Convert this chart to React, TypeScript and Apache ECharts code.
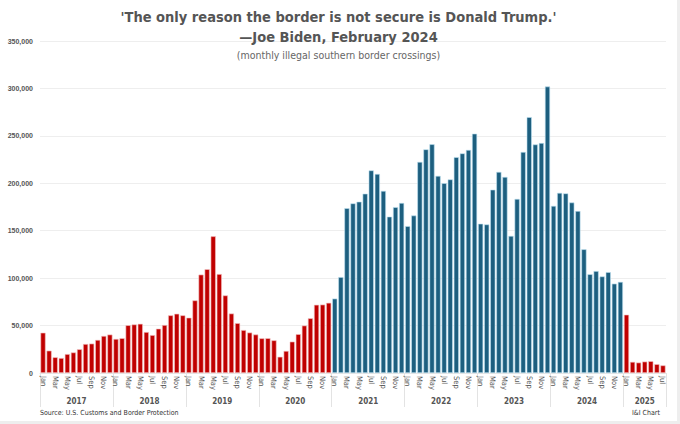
import React, { useEffect, useRef } from "react";
import * as echarts from "echarts";

const monthNames = ["Jan", "Feb", "Mar", "Apr", "May", "Jun", "Jul", "Aug", "Sep", "Oct", "Nov", "Dec"];
const years = [2017, 2018, 2019, 2020, 2021, 2022, 2023, 2024, 2025];

const v2017 = [42463, 23555, 16600, 15766, 19940, 21659, 25014, 30567, 30979, 34855, 39051, 40519];
const v2018 = [35905, 36687, 50347, 51168, 51862, 43180, 39953, 46719, 50568, 60798, 62469, 60782];
const v2019 = [58317, 76545, 103731, 109415, 144116, 104311, 81777, 62707, 52546, 45250, 42649, 40565];
const v2020 = [36585, 36687, 34460, 17106, 23237, 33049, 40929, 50014, 57674, 71929, 72113, 73994];
const v2021 = [78414, 101099, 173686, 178795, 180597, 189034, 213593, 209840, 192001, 164837, 174845, 179253];
const v2022 = [154874, 166010, 222574, 235785, 241136, 207834, 200162, 204087, 227547, 231529, 235173, 252315];
const v2023 = [157358, 156630, 193249, 211992, 206690, 144556, 183503, 232972, 269735, 240932, 242418, 301981];
const v2024 = [176205, 189913, 189359, 179737, 170716, 130415, 104101, 107473, 101790, 106321, 94190, 96035];
const v2025 = [61465, 11709, 11017, 12035, 12452, 9306, 8024];

const yearValues = [v2017, v2018, v2019, v2020, v2021, v2022, v2023, v2024, v2025];
// years under the Biden administration (drawn in blue)
const bidenYears = [2021, 2022, 2023, 2024];

const yTicks = [0, 50000, 100000, 150000, 200000, 250000, 300000, 350000];

const RED = "#C00000";
const BLUE = "#1D5F7F";
const FONT = "'Liberation Sans Narrow', 'Arial Narrow', 'DejaVu Sans Condensed', sans-serif";

export default function App() {
  const ref = useRef<HTMLDivElement>(null);

  useEffect(() => {
    document.body.style.margin = "0";
    if (!ref.current) return;
    const chart = echarts.init(ref.current, null, { renderer: "svg" });

    const categories: string[] = [];
    const data: any[] = [];
    const boundaries: number[] = [0];
    const centers: number[] = [];
    const centerLabel: Record<string, string> = {};
    let idx = 0;
    yearValues.forEach((vals, yi) => {
      const yr = years[yi];
      const start = idx;
      vals.forEach((v, mi) => {
        categories.push(monthNames[mi]);
        const blue = bidenYears.includes(yr);
        data.push({
          value: v,
          itemStyle: {
            color: blue ? BLUE : RED,
            borderColor: blue ? "#bfe3f2" : "#f3c4c4",
            borderWidth: 0.6,
          },
        });
        idx++;
      });
      boundaries.push(idx);
      const c = (start + idx) / 2;
      centers.push(c);
      centerLabel[String(c)] = String(yr);
    });
    const total = idx;

    chart.setOption({
      animation: false,
      title: [
        {
          text: "'The only reason the border is not secure is Donald Trump.'",
          left: "center",
          top: 4,
          textStyle: { fontFamily: FONT, fontSize: 14.5, fontWeight: "bold", color: "#555555" },
        },
        {
          text: "\u2014Joe Biden, February 2024",
          left: "center",
          top: 24,
          textStyle: { fontFamily: FONT, fontSize: 14.5, fontWeight: "bold", color: "#555555" },
        },
        {
          text: "(monthly illegal southern border crossings)",
          left: "center",
          top: 44,
          textStyle: { fontFamily: FONT, fontSize: 10.5, fontWeight: "normal", color: "#666666" },
        },
        {
          text: "Source: U.S. Customs and Border Protection",
          left: 35,
          top: 404,
          textStyle: { fontFamily: FONT, fontSize: 7, fontWeight: "normal", color: "#333333" },
        },
        {
          text: "I&I Chart",
          left: 627,
          top: 404,
          textStyle: { fontFamily: FONT, fontSize: 7, fontWeight: "normal", color: "#333333" },
        },
      ],
      grid: { left: 40, right: 11, top: 41, bottom: 48, containLabel: false },
      xAxis: [
        {
          type: "category",
          data: categories,
          position: "bottom",
          axisLine: { show: true, lineStyle: { color: "#e6e6e6" } },
          axisTick: { show: false },
          axisLabel: {
            interval: 1,
            rotate: -90,
            fontFamily: FONT,
            fontSize: 7.5,
            color: "#555555",
            margin: 3,
          },
        },
        {
          type: "value",
          position: "bottom",
          min: 0,
          max: total,
          axisLine: { show: false },
          splitLine: { show: false },
          axisTick: {
            show: true,
            customValues: boundaries,
            length: 34,
            lineStyle: { color: "#e3e3e3", width: 1 },
          },
          axisLabel: {
            show: true,
            customValues: centers,
            formatter: (v: number) => centerLabel[String(v)] || "",
            margin: 24,
            fontFamily: FONT,
            fontSize: 8,
            fontWeight: "bold",
            color: "#555555",
          },
        },
      ],
      yAxis: {
        type: "value",
        min: 0,
        max: 350000,
        interval: 50000,
        axisLine: { show: false },
        axisTick: { show: false },
        splitLine: { lineStyle: { color: "#eeeeee", width: 1 } },
        axisLabel: {
          margin: 7,
          fontFamily: "'Liberation Sans', Arial, sans-serif",
          fontSize: 7,
          fontWeight: "bold",
          color: "#555555",
          customValues: yTicks,
          formatter: (v: number) => (v === 0 ? "0" : v.toLocaleString("en-US")),
        },
      },
      series: [
        {
          type: "bar",
          data,
          xAxisIndex: 0,
          yAxisIndex: 0,
          barCategoryGap: "16%",
        },
      ],
    });

    return () => chart.dispose();
  }, []);

  return (
    <div style={{ position: "relative", width: 680, height: 424, background: "#eeeeee" }}>
      <div
        ref={ref}
        style={{ position: "absolute", left: 0, top: 0, width: 677, height: 421, background: "#ffffff" }}
      />
    </div>
  );
}
